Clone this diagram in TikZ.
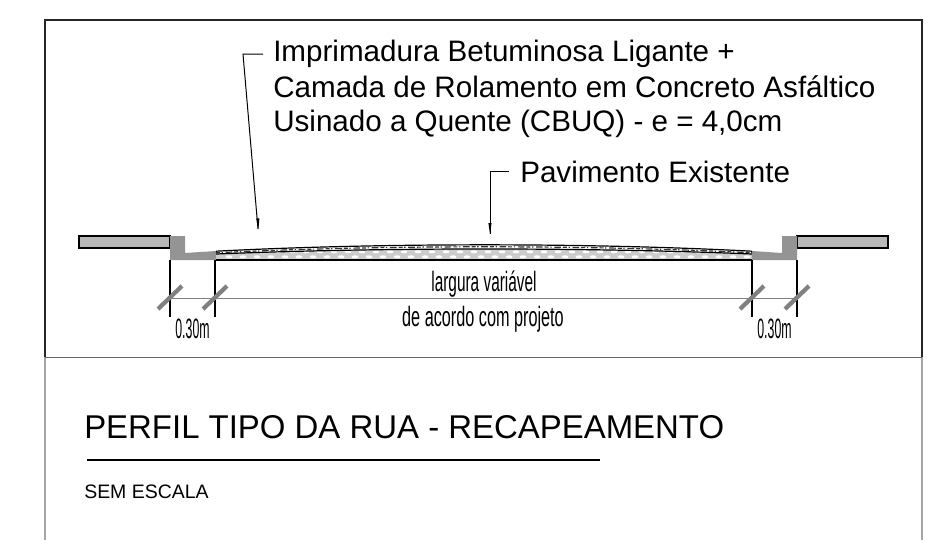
\documentclass[tikz,border=0pt]{standalone}
\usepackage{fontspec}
\setmainfont{Liberation Sans}
\begin{document}
\begin{tikzpicture}[x=0.75pt,y=-0.75pt,
  frameline/.style={draw=black!85,line width=1pt},
  lowline/.style={draw=black!35,line width=1.2pt},
  outline/.style={draw=black,line width=1pt},
  leader/.style={draw=black,line width=0.75pt},
  dimline/.style={draw=black,line width=1.2pt},
  slash/.style={draw=black!50,line width=3.2pt},
  label/.style={inner sep=0pt,anchor=base west,font=\fontsize{22.2pt}{22.2pt}\selectfont},
  narrow/.style={inner sep=0pt,anchor=base,font=\fontsize{21pt}{21pt}\selectfont}]
\useasboundingbox (0,0) rectangle (943,540);
\fill[white] (0,0) rectangle (943,540);
% frame
\draw[frameline] (45,357) -- (45,20) -- (922,20) -- (922,357);
\draw[lowline] (45,357) -- (45,540);
\draw[lowline] (922,357) -- (922,540);
\draw[draw=black!60,line width=1.1pt] (45,357.5) -- (922,357.5);
% sidewalks
\draw[outline,fill=black!28] (79,236) rectangle (170,248);
\draw[outline,fill=black!28] (797,236) rectangle (888,248);
% curbs
\fill[black!42] (170,236) -- (185,236) -- (185,253) -- (216,251) -- (216,260) -- (170,260) -- cycle;
\fill[black!42] (797,236) -- (782,236) -- (782,253) -- (752,251) -- (752,260) -- (797,260) -- cycle;
% pavement base cells
\begin{scope}
\clip (216,254) .. controls (380,247.3) and (590,247.3) .. (752,254) -- (752,260) -- (216,260) -- cycle;
\fill[black!20] (216,244) rectangle (752,260);
\foreach \i in {0,...,38} {
  \fill[white] ({222+\i*14},251.8) ellipse (3.4 and 1.5);
  \fill[white] ({229+\i*14},256.8) ellipse (3.4 and 1.5);
}
\end{scope}
% asphalt layer
\draw[black!80,line width=0.9pt,dash pattern=on 3pt off 1.2pt on 1pt off 2pt on 5pt off 1.5pt] (216,252.8) .. controls (380,244.8) and (590,244.8) .. (752,252.8);
\draw[black,line width=0.9pt] (216,251.2) .. controls (380,242.7) and (590,242.7) .. (752,251.2);
\draw[black,line width=0.9pt] (216,254) .. controls (380,247.3) and (590,247.3) .. (752,254);
\draw[black,line width=0.9pt] (216,260) -- (752,260);
% dimensions
\coordinate (d1) at (170,260); \coordinate (d1b) at (170,317);
\coordinate (d2) at (215,260); \coordinate (d2b) at (215,317);
\coordinate (d3) at (752,260); \coordinate (d3b) at (752,317);
\coordinate (d4) at (797,260); \coordinate (d4b) at (797,317);
\draw[dimline] (d1) -- (d1b);
\draw[dimline] (d2) -- (d2b);
\draw[dimline] (d3) -- (d3b);
\draw[dimline] (d4) -- (d4b);
\draw[draw=black!50,line width=0.75pt] (170,298) -- (797,298);
\draw[slash] (158,309) -- (182,286);
\draw[slash] (203,309) -- (227,286);
\draw[slash] (740,309) -- (764,286);
\draw[slash] (785,309) -- (809,286);
% leaders
\coordinate (l1a) at (263,54); \coordinate (l1b) at (243,54); \coordinate (l1c) at (258,229);
\coordinate (l2a) at (509,171); \coordinate (l2b) at (490,171); \coordinate (l2c) at (490,234);
\draw[leader] (l1a) -- (l1b) -- (l1c);
\draw[leader] (l2a) -- (l2b) -- (l2c);
\fill[black] (258.4,229) -- (256.2,218.5) -- (259.4,218.3) -- cycle;
\fill[black] (490,234) -- (488.4,223) -- (491.6,223) -- cycle;
% texts
\node[label] (t1) at (273,61) {Imprimadura Betuminosa Ligante +};
\node[label] (t2) at (273,97) {Camada de Rolamento em Concreto Asfáltico};
\node[label] (t3) at (273,131.5) {Usinado a Quente (CBUQ) - e = 4,0cm};
\node[label] (t4) at (520,182) {Pavimento Existente};
\node[narrow,xscale=0.55] (n1) at (484,291) {largura variável};
\node[narrow,xscale=0.58] (n2) at (483,326) {de acordo com projeto};
\node[narrow,xscale=0.44] (n3) at (192.5,338) {0.30m};
\node[narrow,xscale=0.44] (n4) at (774.5,338) {0.30m};
\node[inner sep=0pt,anchor=base west,font=\fontsize{24.7pt}{24.7pt}\selectfont] (title) at (84,438) {PERFIL TIPO DA RUA - RECAPEAMENTO};
\draw[black,line width=0.9pt] (87,460) -- (600,460);
\node[inner sep=0pt,anchor=base west,font=\fontsize{14.6pt}{14.6pt}\selectfont] (sub) at (84,498.5) {SEM ESCALA};
\end{tikzpicture}
\end{document}
